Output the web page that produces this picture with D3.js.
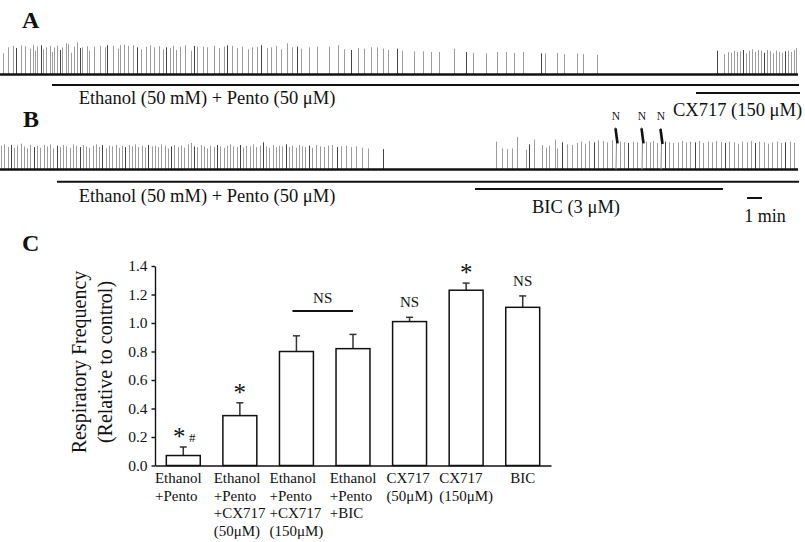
<!DOCTYPE html>
<html><head><meta charset="utf-8">
<script src="https://cdn.jsdelivr.net/npm/d3@7"></script>
<style>
html,body{margin:0;padding:0;background:#fff;}
svg{display:block;font-family:"Liberation Serif","Times New Roman",serif;}
</style></head>
<body>
<svg id="c" width="805" height="542"></svg>
<script>
// ---------- DATA ----------
// Recording traces: spike time (s) and relative amplitude (a.u.)
const traceA_spikes = [
[12,.62],[32,.80],[52,.84],[64,.78],[84,.86],[100,.83],[120,.76],[132,.88],[140,.70],[148,.82],[164,.86],[172,.74],[184,.80],[200,.84],[208,.66],[216,.79],[228,.85],[240,.72],[248,.80],[264,.92],[272,.90],[284,.64],[296,.82],[308,.94],[320,.78],[328,.80],[348,.83],[356,.70],[376,.82],[400,.84],[420,.80],[428,.86],[452,.84],[472,.76],[480,.86],[496,.88],[512,.84],[532,.86],[548,.80],[564,.74],[584,.82],[600,.86],[616,.80],[636,.83],[652,.74],[664,.80],[680,.78],[692,.84],[704,.72],[720,.82],[740,.86],[764,.70],[776,.84],[788,.82],
[812,.82],[828,.80],[856,.84],[876,.78],[896,.82],[908,.86],[928,.84],[948,.78],[968,.82],[992,.74],[1008,.80],[1028,.82],[1044,.86],[1068,.78],[1084,.80],[1104,.84],[1124,.74],[1148,.92],[1168,.80],[1188,.82],[1204,.76],[1236,.80],[1268,.82],[1316,.82],[1352,.86],[1376,.74],[1404,.72],[1432,.78],[1456,.76],[1484,.80],[1508,.80],[1532,.76],[1552,.72],[1588,.76],
[1608,.70],[1656,.68],[1692,.68],[1724,.66],[1756,.66],[1816,.76],[1864,.66],[1892,.64],[1944,.62],[1988,.66],[2024,.66],[2056,.64],[2092,.66],[2164,.62],[2180,.62],[2228,.64],[2256,.60],[2308,.62],[2332,.60],[2388,.58],
[2868,.70],[2896,.60],[2912,.66],[2924,.64],[2936,.70],[2948,.66],[2960,.68],[2972,.72],[2984,.62],[2996,.70],[3008,.74],[3020,.66],[3032,.72],[3044,.70],[3056,.64],[3068,.72],[3080,.68],[3092,.62],[3104,.70],[3116,.66],[3128,.64],[3140,.68],[3152,.70],[3164,.66],[3176,.72],[3184,.78]
];
const traceB_spikes = [
[4,.70],[16,.74],[32,.66],[44,.72],[56,.64],[68,.70],[84,.76],[96,.68],[108,.62],[120,.72],[136,.66],[148,.70],[160,.64],[176,.72],[188,.68],[200,.74],[212,.62],[228,.70],[240,.66],[252,.72],[264,.68],[280,.64],[292,.74],[304,.70],[320,.66],[332,.72],[344,.68],[356,.64],[372,.70],[384,.74],[396,.66],[408,.72],[424,.62],[436,.70],[448,.68],[464,.72],[476,.64],[488,.70],[500,.66],[516,.72],[528,.68],[540,.74],[552,.66],[568,.70],[580,.64],[592,.72],[608,.68],[620,.70],[632,.66],[644,.74],[660,.70],[672,.62],[684,.68],[696,.72],[712,.66],[724,.70],[736,.64],[752,.74],[764,.78],[776,.68],[788,.66],[804,.72],[816,.68],[828,.62],[840,.70],[856,.66],[868,.72],[880,.68],[896,.64],[908,.70],[920,.74],[932,.68],[948,.66],[960,.72],[972,.64],[984,.70],[1000,.68],[1012,.74],[1024,.66],[1040,.70],[1052,.80],[1064,.68],[1076,.64],[1092,.72],[1104,.66],[1116,.70],[1128,.68],[1144,.74],[1156,.66],[1168,.70],[1184,.64],[1196,.72],[1208,.68],[1220,.66],[1236,.70],[1248,.64],[1264,.72],[1280,.68],[1296,.66],[1312,.70],[1328,.72],[1348,.66],[1364,.68],[1384,.70],[1404,.66],[1424,.68],[1448,.64],[1472,.62],[1532,.60],
[1984,.82],[2008,.62],[2028,.60],[2048,.62],[2068,.96],[2104,.58],[2116,.74],[2136,.88],[2168,.72],[2184,.64],[2196,.70],[2220,.88],[2228,.62],[2248,.80],[2268,.74],[2288,.72],[2308,.78],[2324,.82],[2340,.76],[2356,.84],[2376,.80],[2392,.86],[2412,.84],[2428,.80],[2448,.86],[2480,.82],[2496,.80],[2512,.78],[2532,.82],[2548,.80],[2584,.82],[2600,.80],[2612,.84],[2628,.78],[2660,.82],[2676,.80],[2692,.78],[2712,.80],[2728,.84],[2744,.80],[2760,.82],[2780,.80],[2796,.84],[2812,.78],[2832,.82],[2848,.80],[2864,.84],[2884,.80],[2900,.78],[2916,.82],[2936,.80],[2952,.76],[2968,.82],[2988,.80],[3004,.84],[3020,.78],[3036,.82],[3056,.80],[3072,.76],[3088,.80],[3108,.82],[3124,.78],[3140,.80],[3160,.82],[3176,.78]
];
const traceB_sighs = [[2464,1.24],[2568,1.24],[2644,1.22]];
const traceEnd = 3192; // s

// Drug application bars: [start s, end s, label]
const drugsA = [[208,3196,"Ethanol (50 mM) + Pento (50 μM)"],[2784,3200,"CX717 (150 μM)"]];
const drugsB = [[228,3196,"Ethanol (50 mM) + Pento (50 μM)"],[1900,2892,"BIC (3 μM)"]];
const scaleBar = [2988,3048,"1 min"];

// Bar chart C
const categories = [
  ["Ethanol","+Pento"],
  ["Ethanol","+Pento","+CX717","(50μM)"],
  ["Ethanol","+Pento","+CX717","(150μM)"],
  ["Ethanol","+Pento","+BIC"],
  ["CX717","(50μM)"],
  ["CX717","(150μM)"],
  ["BIC"]
];
const means = [0.07,0.35,0.80,0.82,1.01,1.23,1.11];
const sems  = [0.06,0.09,0.11,0.10,0.03,0.05,0.08];
const yTicks = [0,0.2,0.4,0.6,0.8,1.0,1.2,1.4];
const marks = ["*#","*","","","NS","*","NS"];

// ---------- DRAW ----------
const svg = d3.select("#c");
const ink = "#111";

const tx = d3.scaleLinear().domain([0,3200]).range([0,800]);

function drawTrace(spikes, base, ampPx){
  const ya = d3.scaleLinear().domain([0,1]).range([base, base-ampPx]);
  const g = svg.append("g");
  g.selectAll("line.sp").data(spikes).join("line")
    .attr("x1",d=>tx(d[0])+0.5).attr("x2",d=>tx(d[0])+0.5)
    .attr("y1",base).attr("y2",d=>ya(d[1]))
    .attr("stroke",(d,i)=> i%7===3 ? "#444" : "#9c9c9c").attr("stroke-width",1);
  g.append("line").attr("x1",tx(0)).attr("x2",tx(traceEnd))
    .attr("y1",base).attr("y2",base).attr("stroke",ink).attr("stroke-width",2.4);
  return {g, ya};
}
const A = drawTrace(traceA_spikes, 74.5, 34);
const B = drawTrace(traceB_spikes, 169.5, 34);
// sigh (N) events in trace B
B.g.selectAll("path.sigh").data(traceB_sighs).join("path")
  .attr("d",d=>{const x=tx(d[0]); const top=B.ya(d[1]); return `M${x},169.5 L${x+0.5},${top+14} L${x-0.5},${top}`;})
  .attr("fill","none").attr("stroke","#8a8a8a").attr("stroke-width",1);
B.g.selectAll("path.sighk").data(traceB_sighs).join("path")
  .attr("d",d=>{const x=tx(d[0]); const top=B.ya(d[1]); return `M${x-0.5},${top+1} L${x+1.5},${top+16}`;})
  .attr("fill","none").attr("stroke",ink).attr("stroke-width",2.6);
svg.selectAll("text.N").data(traceB_sighs).join("text")
  .attr("x",d=>tx(d[0])).attr("y",119.5).attr("text-anchor","middle")
  .attr("font-size",11.5).attr("fill",ink).text("N");

function drugBar(d, y){
  svg.append("line").attr("x1",tx(d[0])).attr("x2",tx(d[1])).attr("y1",y).attr("y2",y)
    .attr("stroke",ink).attr("stroke-width",2);
}
drugBar(drugsA[0],85); drugBar(drugsA[1],93);
drugBar(drugsB[0],181.7); drugBar(drugsB[1],189);
drugBar(scaleBar,198);

const lab = (x,y,t,anchor,size)=> svg.append("text").attr("x",x).attr("y",y)
  .attr("text-anchor",anchor||"middle").attr("font-size",size||18.5).attr("fill",ink).text(t);
lab(207,104,drugsA[0][2]);
lab(673,116,drugsA[1][2],"start");
lab(207,202,drugsB[0][2]);
lab(576,213,drugsB[1][2]);
lab(765,221.5,scaleBar[2],"middle",18);

// panel letters
[["A",22,28],["B",23,127],["C",22,251]].forEach(p=>{
  svg.append("text").attr("x",p[1]).attr("y",p[2]).attr("font-size",24)
    .attr("font-weight","bold").attr("fill",ink).text(p[0]);
});

// ---------- bar chart ----------
const x = d3.scaleBand().domain(d3.range(categories.length)).range([155,551])
  .paddingInner(0.4).paddingOuter(0.2);
const y = d3.scaleLinear().domain([0,1.4]).range([465.5,266]);

const yAx = svg.append("g").attr("transform","translate(155,0)")
  .call(d3.axisLeft(y).tickValues(yTicks).tickFormat(d3.format(".1f")).tickSize(3.5).tickSizeOuter(0).tickPadding(4));
yAx.selectAll("text").attr("font-size",15.5).attr("fill",ink).attr("font-family","Liberation Serif");
yAx.selectAll("line,path").attr("stroke",ink).attr("stroke-width",1.4);

const xAx = svg.append("g").attr("transform","translate(0,465.5)")
  .call(d3.axisBottom(x).tickSize(0).tickSizeOuter(0).tickFormat(""));
xAx.select("path").attr("stroke",ink).attr("stroke-width",1.4);

// error bars
const eg = svg.append("g");
means.forEach((m,i)=>{
  const cx = x(i)+x.bandwidth()/2;
  eg.append("line").attr("x1",cx).attr("x2",cx).attr("y1",y(m)).attr("y2",y(m+sems[i]))
    .attr("stroke","#333").attr("stroke-width",1.5);
  eg.append("line").attr("x1",cx-3.5).attr("x2",cx+3.5).attr("y1",y(m+sems[i])).attr("y2",y(m+sems[i]))
    .attr("stroke","#333").attr("stroke-width",1.5);
});
svg.append("g").selectAll("rect").data(means).join("rect")
  .attr("x",(d,i)=>x(i)).attr("width",x.bandwidth())
  .attr("y",d=>y(d)).attr("height",d=>y(0)-y(d))
  .attr("fill","#fff").attr("stroke",ink).attr("stroke-width",1.5);

// category labels
categories.forEach((lines,i)=>{
  const cx = x(i)+x.bandwidth()/2;
  const t = svg.append("text").attr("font-size",15).attr("fill",ink);
  lines.forEach((l,j)=> t.append("tspan").attr("x",0).attr("y",483+j*17.7).text(l));
  const w = t.node().getBBox().width;
  t.selectAll("tspan").attr("x",cx-w/2 - (i===0?5:0));
});

// significance marks
marks.forEach((m,i)=>{
  const cx = x(i)+x.bandwidth()/2;
  const top = y(means[i]+sems[i]);
  if(m.startsWith("*")){
    svg.append("text").attr("x",cx-(m.length>1?4:0)).attr("y",top-2).attr("text-anchor","middle")
      .attr("font-size",25).attr("fill",ink).text("*");
    if(m.includes("#")) svg.append("text").attr("x",cx+9).attr("y",top-5).attr("text-anchor","middle")
      .attr("font-size",13).attr("fill",ink).text("#");
  } else if(m==="NS"){
    svg.append("text").attr("x",cx).attr("y",top-10).attr("text-anchor","middle")
      .attr("font-size",15).attr("fill",ink).text("NS");
  }
});
// NS bracket over groups 3-4
svg.append("line").attr("x1",x(2)+13).attr("x2",x(3)+x.bandwidth()-17).attr("y1",311).attr("y2",311)
  .attr("stroke",ink).attr("stroke-width",1.8);
svg.append("text").attr("x",(x(2)+13+x(3)+x.bandwidth()-17)/2).attr("y",303).attr("text-anchor","middle")
  .attr("font-size",15).attr("fill",ink).text("NS");

// y-axis title
const yt = svg.append("text").attr("transform","translate(86,362) rotate(-90)")
  .attr("text-anchor","middle").attr("font-size",20).attr("fill",ink);
yt.append("tspan").attr("x",0).attr("y",0).text("Respiratory Frequency");
yt.append("tspan").attr("x",0).attr("y",26).text("(Relative to control)");
</script>
</body></html>
